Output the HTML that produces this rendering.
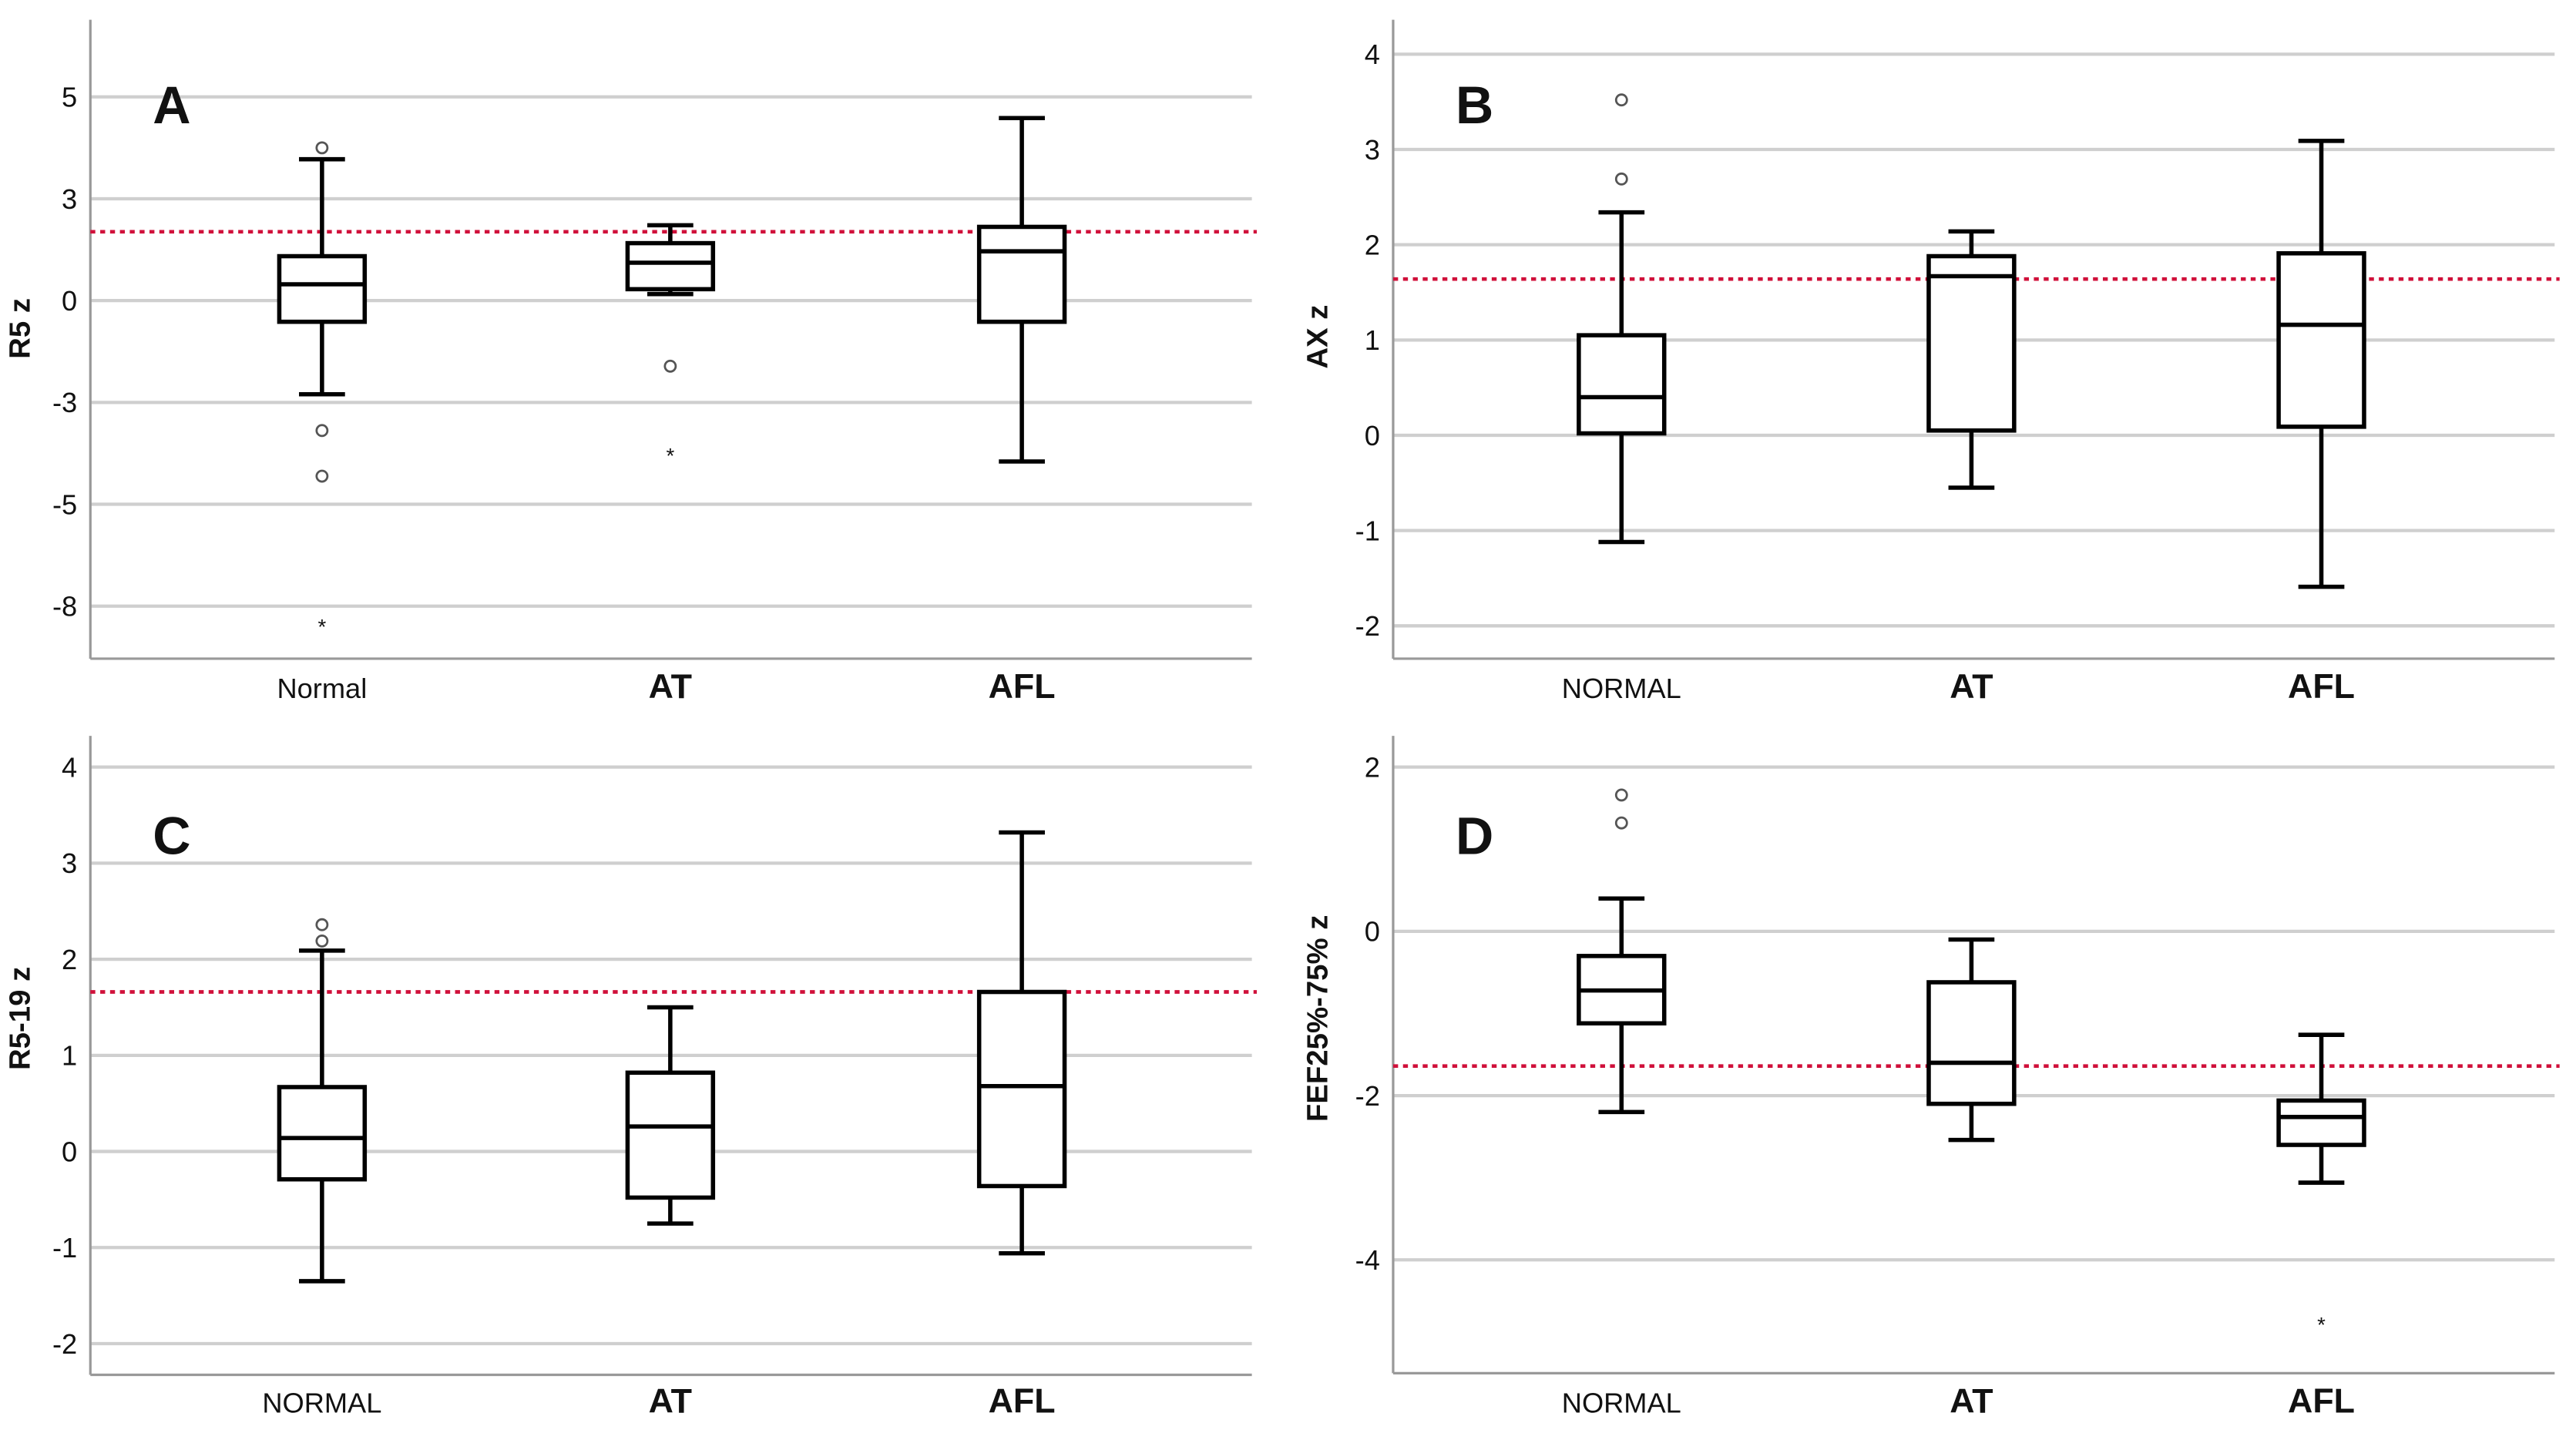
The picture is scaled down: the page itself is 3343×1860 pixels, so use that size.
<!DOCTYPE html>
<html><head><meta charset="utf-8"><style>
html,body{margin:0;padding:0;background:#fff}
svg{display:block}
text{font-family:"Liberation Sans",sans-serif;fill:#111}
</style></head><body>
<svg id="fig" width="3343" height="1860" viewBox="0 0 1568 872.4" preserveAspectRatio="none" xmlns="http://www.w3.org/2000/svg"></svg>
<script>
// ---- data ----
const panelALetters = ["A","B","C","D"];
const catsA = ["Normal","AT","AFL"];
const catsB = ["NORMAL","AT","AFL"];
const catsC = ["NORMAL","AT","AFL"];
const catsD = ["NORMAL","AT","AFL"];
// [whiskerLow, q1, median, q3, whiskerHigh]
const statsA = [[-2.3,-0.52,0.40,1.09,3.47],[0.16,0.28,0.93,1.41,1.85],[-3.95,-0.52,1.21,1.81,4.48]];
const statsB = [[-1.12,0.02,0.40,1.05,2.34],[-0.55,0.05,1.67,1.88,2.14],[-1.59,0.09,1.16,1.91,3.09]];
const statsC = [[-1.35,-0.29,0.14,0.67,2.09],[-0.75,-0.48,0.26,0.82,1.50],[-1.06,-0.36,0.68,1.66,3.32]];
const statsD = [[-2.2,-1.12,-0.72,-0.3,0.4],[-2.54,-2.1,-1.6,-0.62,-0.1],[-3.06,-2.6,-2.26,-2.06,-1.26]];
const circlesA = [[0,3.75],[0,-3.19],[0,-4.31],[1,-1.61]];
const starsA = [[0,-7.98],[1,-3.79]];
const circlesB = [[0,3.52],[0,2.69]];
const starsB = [];
const circlesC = [[0,2.36],[0,2.19]];
const starsC = [];
const circlesD = [[0,1.66],[0,1.32]];
const starsD = [[2,-4.78]];
const refLines = [1.69,1.64,1.66,-1.64];
const tickValsA = [5,2.5,0,-2.5,-5,-7.5];
const tickLabelsA = ["5","3","0","-3","-5","-8"];
const tickValsB = [4,3,2,1,0,-1,-2];
const tickLabelsB = ["4","3","2","1","0","-1","-2"];
const tickValsC = [4,3,2,1,0,-1,-2];
const tickLabelsC = ["4","3","2","1","0","-1","-2"];
const tickValsD = [2,0,-2,-4];
const tickLabelsD = ["2","0","-2","-4"];
const yTitles = ["R5 z","AX z","R5-19 z","FEF25%-75% z"];

const NS="http://www.w3.org/2000/svg";
const svg=document.getElementById('fig');
function mk(tag,attrs,parent){const e=document.createElementNS(NS,tag);for(const k in attrs)e.setAttribute(k,attrs[k]);(parent||svg).appendChild(e);return e;}

const panels=[
 {ax:55,right:762,top:12,bottom:401,y0:183,ppu:62/2.5,xs:[196,408,622],cats:catsA,stats:statsA,circ:circlesA,star:starsA,tv:tickValsA,tl:tickLabelsA,labY:425,letX:93,letY:75,titleX:18,titleY:200,boldCats:[false,true,true]},
 {ax:848,right:1555,top:12,bottom:401,y0:265,ppu:58,xs:[987,1200,1413],cats:catsB,stats:statsB,circ:circlesB,star:starsB,tv:tickValsB,tl:tickLabelsB,labY:425,letX:886,letY:75,titleX:808,titleY:205,boldCats:[false,true,true]},
 {ax:55,right:762,top:448,bottom:837,y0:701,ppu:58.5,xs:[196,408,622],cats:catsC,stats:statsC,circ:circlesC,star:starsC,tv:tickValsC,tl:tickLabelsC,labY:860,letX:93,letY:520,titleX:18,titleY:620,boldCats:[false,true,true]},
 {ax:848,right:1555,top:448,bottom:836,y0:567,ppu:50,xs:[987,1200,1413],cats:catsD,stats:statsD,circ:circlesD,star:starsD,tv:tickValsD,tl:tickLabelsD,labY:860,letX:886,letY:520,titleX:808,titleY:620,boldCats:[false,true,true]}
];

panels.forEach((p,i)=>{
 const g=mk('g',{});
 
 
 const Y=v=>p.y0-v*p.ppu;
 p.tv.forEach((v,j)=>{
  const gl=mk('line',{x1:p.ax,x2:p.right,y1:Y(v),y2:Y(v),stroke:'#cfcfcf','stroke-width':2},g);
  
  
  const t=mk('text',{x:p.ax-8,y:Y(v)+6,'text-anchor':'end','font-size':17},g);
  t.textContent=p.tl[j];
  
  
 });
 const ya=mk('line',{x1:p.ax,x2:p.ax,y1:p.top,y2:p.bottom,stroke:'#999','stroke-width':1.5},g);
 
 
 const xa=mk('line',{x1:p.ax,x2:p.right,y1:p.bottom,y2:p.bottom,stroke:'#999','stroke-width':1.5},g);
 
 
 const rl=mk('line',{x1:p.ax,x2:p.right+3,y1:Y(refLines[i]),y2:Y(refLines[i]),stroke:'#d0103a','stroke-width':2.2,'stroke-dasharray':'3,3'},g);
 
 
 p.stats.forEach((s,j)=>{
  const cx=p.xs[j],bw=26,cw=14;
  const bg=mk('g',{stroke:'#000','stroke-width':2.6,fill:'#fff'},g);
  
  
  mk('line',{x1:cx,x2:cx,y1:Y(s[0]),y2:Y(s[4])},bg);
  mk('line',{x1:cx-cw,x2:cx+cw,y1:Y(s[0]),y2:Y(s[0])},bg);
  mk('line',{x1:cx-cw,x2:cx+cw,y1:Y(s[4]),y2:Y(s[4])},bg);
  mk('rect',{x:cx-bw,y:Y(s[3]),width:bw*2,height:Y(s[1])-Y(s[3])},bg);
  mk('line',{x1:cx-bw,x2:cx+bw,y1:Y(s[2]),y2:Y(s[2])},bg);
  const t=mk('text',{x:cx,y:p.labY,'text-anchor':'middle','font-size':p.boldCats[j]?21:17,'font-weight':p.boldCats[j]?'bold':'normal'},g);
  t.textContent=p.cats[j];
  
  
 });
 p.circ.forEach(c=>{
  const o=mk('circle',{cx:p.xs[c[0]],cy:Y(c[1]),r:3.3,fill:'none',stroke:'#555','stroke-width':1.3},g);
  
  
 });
 p.star.forEach(c=>{
  const o=mk('text',{x:p.xs[c[0]],y:Y(c[1])+5,'text-anchor':'middle','font-size':13},g);
  o.textContent='*';
  
  
 });
 const L=mk('text',{x:p.letX,y:p.letY,'font-size':32,'font-weight':'bold'},g);
 L.textContent=panelALetters[i];
 
 
 const T=mk('text',{x:p.titleX,y:p.titleY,'text-anchor':'middle','font-size':18,'font-weight':'bold',transform:`rotate(-90 ${p.titleX} ${p.titleY})`},g);
 T.textContent=yTitles[i];
 
 
});
</script>
</body></html>
